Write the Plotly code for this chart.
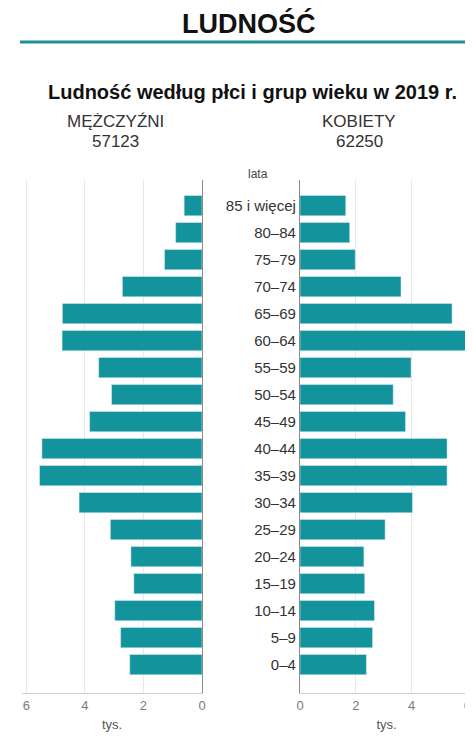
import plotly.graph_objects as go

# The page body has an 8px margin, so the figure is drawn 8px in from the
# window edge; coordinates below are reference pixel positions minus that offset.
OFF = 8
W, H = 473 - OFF, 742 - OFF

age_groups = ["0–4", "5–9", "10–14", "15–19", "20–24", "25–29", "30–34", "35–39",
              "40–44", "45–49", "50–54", "55–59", "60–64", "65–69", "70–74",
              "75–79", "80–84", "85 i więcej"]
men = [2.47, 2.78, 2.98, 2.33, 2.43, 3.13, 4.20, 5.55, 5.47, 3.84, 3.09, 3.53,
       4.78, 4.77, 2.72, 1.28, 0.90, 0.61]
women = [2.38, 2.60, 2.67, 2.32, 2.29, 3.05, 4.03, 5.27, 5.27, 3.78, 3.34, 3.98,
         6.40, 5.45, 3.62, 1.98, 1.78, 1.64]
x_ticks = [0, 2, 4, 6]
total_men = "57123"
total_women = "62250"

BAR = "#13939c"
FONT = "Liberation Sans, Arial, sans-serif"

def px_x(x):
    return (x - OFF) / W

def px_y(y):
    return 1 - (y - OFF) / H

fig = go.Figure()
fig.add_trace(go.Bar(x=men, y=age_groups, orientation="h", marker_color=BAR,
                     xaxis="x", yaxis="y", showlegend=False))
fig.add_trace(go.Bar(x=women, y=age_groups, orientation="h", marker_color=BAR,
                     xaxis="x2", yaxis="y2", showlegend=False))

ydom = [px_y(693), px_y(180)]
common_x = dict(tickvals=x_ticks, ticktext=[str(v) for v in x_ticks],
                showgrid=True, gridcolor="#e8e8e8", gridwidth=1,
                showline=True, linecolor="#d0d0d0", linewidth=1,
                zeroline=False, ticks="", automargin=False,
                ticklabeloverflow="allow",
                tickfont=dict(family=FONT, size=13, color="#7a7a7a"),
                title=dict(text="tys.", font=dict(family=FONT, size=13, color="#555"),
                           standoff=8),
                fixedrange=True)

fig.update_layout(
    width=W, height=H,
    margin=dict(l=0, r=0, t=0, b=0),
    paper_bgcolor="white", plot_bgcolor="white",
    bargap=0.25,
    xaxis=dict(domain=[px_x(22), px_x(202)], range=[6.15, 0], anchor="y", **common_x),
    xaxis2=dict(domain=[px_x(300), 1.0], range=[0, 6.2], anchor="y2", **common_x),
    yaxis=dict(domain=ydom, anchor="x", side="right", type="category",
               categoryorder="array", categoryarray=age_groups,
               range=[-1.05, 17.95], showticklabels=False, showgrid=False,
               showline=True, linecolor="#8a8a8a", linewidth=1.2, ticks="",
               automargin=False, fixedrange=True),
    yaxis2=dict(domain=ydom, anchor="x2", side="left", type="category",
                categoryorder="array", categoryarray=age_groups,
                range=[-1.05, 17.95], showticklabels=True, showgrid=False,
                showline=True, linecolor="#8a8a8a", linewidth=1.2, ticks="",
                tickfont=dict(family=FONT, size=15, color="#333"),
                automargin=False, fixedrange=True),
    font=dict(family=FONT),
)

ann = [
    dict(text="<b>LUDNOŚĆ</b>", x=px_x(249), y=px_y(24), size=27, color="#111"),
    dict(text="<b>Ludność według płci i grup wieku w 2019 r.</b>", x=px_x(252), y=px_y(92),
         size=20, color="#111"),
    dict(text="MĘŻCZYŹNI", x=px_x(115), y=px_y(121), size=17, color="#333"),
    dict(text=total_men, x=px_x(115), y=px_y(141), size=17, color="#333"),
    dict(text="KOBIETY", x=px_x(359), y=px_y(121), size=17, color="#333"),
    dict(text=total_women, x=px_x(359), y=px_y(141), size=17, color="#333"),
    dict(text="lata", x=px_x(258), y=px_y(174), size=12, color="#444"),
]
for a in ann:
    fig.add_annotation(text=a["text"], x=a["x"], y=a["y"], xref="paper", yref="paper",
                       showarrow=False, xanchor="center", yanchor="middle",
                       font=dict(family=FONT, size=a["size"], color=a["color"]))

fig.add_shape(type="line", xref="paper", yref="paper", x0=px_x(20), x1=1.0,
              y0=px_y(42), y1=px_y(42), line=dict(color="#1d8f95", width=3))

fig.write_html("out.html")
